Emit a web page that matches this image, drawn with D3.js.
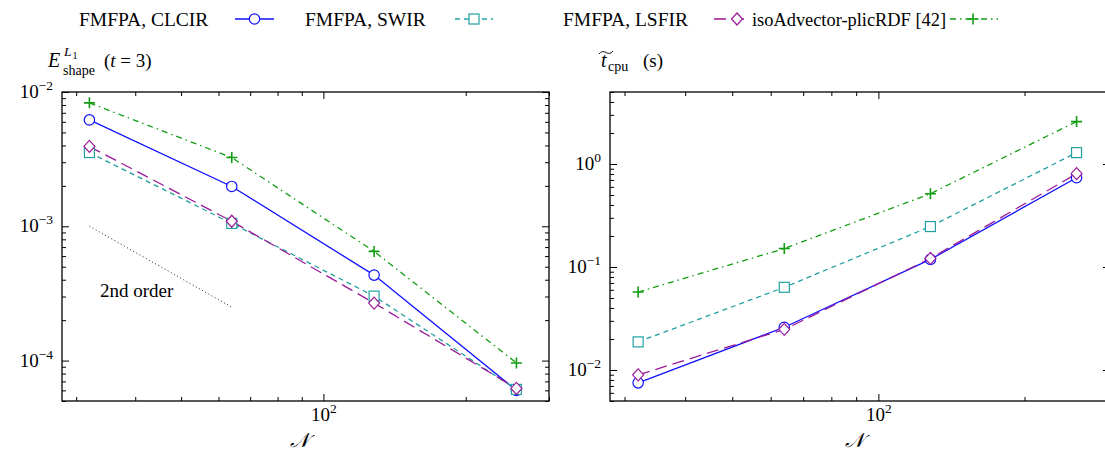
<!DOCTYPE html>
<html><head><meta charset="utf-8">
<script src="https://cdn.jsdelivr.net/npm/d3@7"></script>
<style>
body{margin:0;background:#fff}
svg{display:block}
text{font-family:"Liberation Serif","DejaVu Serif",serif;fill:#000}
</style>
</head><body>
<svg id="c" width="1105" height="451"></svg>
<script>
// ---------------- data ----------------
const meshN = [32, 64, 128, 256];
const errCLCIR = [6.2e-3, 1.98e-3, 4.33e-4, 6.0e-5];
const errSWIR  = [3.54e-3, 1.05e-3, 3.02e-4, 6.1e-5];
const errLSFIR = [3.93e-3, 1.09e-3, 2.68e-4, 6.2e-5];
const errISO   = [8.3e-3, 3.25e-3, 6.5e-4, 9.6e-5];
const cpuCLCIR = [7.5e-3, 0.026, 0.1185, 0.736];
const cpuSWIR  = [0.01875, 0.0635, 0.247, 1.29];
const cpuLSFIR = [8.97e-3, 0.0248, 0.121, 0.805];
const cpuISO   = [0.0571, 0.151, 0.515, 2.58];
const seriesNames = ["FMFPA, CLCIR", "FMFPA, SWIR", "FMFPA, LSFIR", "isoAdvector-plicRDF [42]"];
const orderN = [32, 64];
const orderE = [1e-3, 2.5e-4];
const orderLabel = "2nd order";
const xDomain = [28, 300];
const errDomain = [5e-5, 1e-2];
const cpuDomain = [5e-3, 5];
const xMajorTicks = [100];
const errMajorTicks = [1e-4, 1e-3, 1e-2];
const cpuMajorTicks = [1e-2, 1e-1, 1];
const xTitle = "\uD835\uDCA9";

// ---------------- styles ----------------
const styles = [
  {color:"#1010ff", dash:null, marker:"circle"},
  {color:"#22a0a0", dash:"5,4", marker:"square"},
  {color:"#9a1a9a", dash:"12,6", marker:"diamond"},
  {color:"#129c12", dash:"6,4,1.5,4", marker:"plus"}
];
const FS = 19;       // main font size
const SUP = 13.5;    // script size

const svg = d3.select("#c");

function drawMarker(g, type, cx, cy, color) {
  if (type === "circle") {
    g.append("circle").attr("cx", cx).attr("cy", cy).attr("r", 5.2)
      .attr("fill", "#fff").attr("stroke", color).attr("stroke-width", 1.2);
  } else if (type === "square") {
    g.append("rect").attr("x", cx - 5).attr("y", cy - 5).attr("width", 10).attr("height", 10)
      .attr("fill", "#fff").attr("stroke", color).attr("stroke-width", 1.2);
  } else if (type === "diamond") {
    g.append("path").attr("d", `M${cx},${cy-6}L${cx+5.5},${cy}L${cx},${cy+6}L${cx-5.5},${cy}Z`)
      .attr("fill", "#fff").attr("stroke", color).attr("stroke-width", 1.2);
  } else {
    g.append("path").attr("d", `M${cx-5.5},${cy}H${cx+5.5}M${cx},${cy-5.5}V${cy+5.5}`)
      .attr("fill", "none").attr("stroke", color).attr("stroke-width", 1.6);
  }
}

function expLabel(sel) {
  sel.each(function(d) {
    const t = d3.select(this);
    t.text(null);
    const e = Math.round(Math.log10(d));
    t.append("tspan").text("10");
    t.append("tspan").attr("dy", -8).attr("font-size", SUP).text(String(e).replace("-", "\u2212"));
  });
}

function isMajor(v, majors) { return majors.some(m => Math.abs(m - v) / m < 1e-6); }

function panel(x0, x1, yDomain, yMajors, seriesList) {
  const top = 92, bottom = 401;
  const x = d3.scaleLog().domain(xDomain).range([x0, x1]);
  const y = d3.scaleLog().domain(yDomain).range([bottom, top]);
  const g = svg.append("g");
  const w = x1 - x0, h = bottom - top;

  const xMinor = x.ticks().filter(v => !isMajor(v, xMajorTicks));
  const yMinor = y.ticks().filter(v => !isMajor(v, yMajors));

  const style = sel => {
    sel.select(".domain").remove();
    sel.selectAll(".tick line").attr("stroke", "#000").attr("stroke-width", 1);
    sel.attr("font-family", null).attr("font-size", null);
  };
  // minor ticks, all four sides (inward)
  g.append("g").attr("transform", `translate(${x0},0)`).call(d3.axisLeft(y).tickValues(yMinor).tickSize(-4).tickFormat("")).call(style);
  g.append("g").attr("transform", `translate(${x1},0)`).call(d3.axisRight(y).tickValues(yMinor).tickSize(-4).tickFormat("")).call(style);
  g.append("g").attr("transform", `translate(0,${bottom})`).call(d3.axisBottom(x).tickValues(xMinor).tickSize(-4).tickFormat("")).call(style);
  g.append("g").attr("transform", `translate(0,${top})`).call(d3.axisTop(x).tickValues(xMinor).tickSize(-4).tickFormat("")).call(style);
  // major ticks
  const yl = g.append("g").attr("transform", `translate(${x0},0)`)
    .call(d3.axisLeft(y).tickValues(yMajors).tickSize(-7).tickPadding(9).tickFormat(() => "")).call(style);
  yl.selectAll(".tick text").attr("font-size", FS).attr("dy", "0.3em").call(expLabel);
  g.append("g").attr("transform", `translate(${x1},0)`).call(d3.axisRight(y).tickValues(yMajors).tickSize(-7).tickFormat("")).call(style);
  const xb = g.append("g").attr("transform", `translate(0,${bottom})`)
    .call(d3.axisBottom(x).tickValues(xMajorTicks).tickSize(-7).tickFormat(() => "")).call(style);
  xb.selectAll(".tick text").attr("font-size", FS).attr("y", 20).attr("dy", 0).call(expLabel);
  g.append("g").attr("transform", `translate(0,${top})`).call(d3.axisTop(x).tickValues(xMajorTicks).tickSize(-7).tickFormat("")).call(style);

  // series
  const line = d3.line().x(d => x(d[0])).y(d => y(d[1]));
  seriesList.forEach((vals, i) => {
    const s = styles[i];
    const pts = meshN.map((n, j) => [n, vals[j]]);
    g.append("path").attr("d", line(pts)).attr("fill", "none").attr("stroke", s.color)
      .attr("stroke-width", 1.3).attr("stroke-dasharray", s.dash);
  });
  seriesList.forEach((vals, i) => {
    meshN.forEach((n, j) => drawMarker(g, styles[i].marker, x(n), y(vals[j]), styles[i].color));
  });

  // frame
  g.append("rect").attr("x", x0).attr("y", top).attr("width", w).attr("height", h)
    .attr("fill", "none").attr("stroke", "#000").attr("stroke-width", 1.3);

  // x title
  g.append("text").attr("x", (x0 + x1) / 2 - 6).attr("y", 447).attr("text-anchor", "middle")
    .attr("font-size", 20).attr("font-style", "italic").text(xTitle);
  return {x, y, g};
}

const L = panel(62, 549, errDomain, errMajorTicks, [errCLCIR, errSWIR, errLSFIR, errISO]);
const R = panel(610, 1110, cpuDomain, cpuMajorTicks, [cpuCLCIR, cpuSWIR, cpuLSFIR, cpuISO]);

// 2nd order reference line
L.g.append("path")
  .attr("d", d3.line().x(d => L.x(d[0])).y(d => L.y(d[1]))(orderN.map((n, i) => [n, orderE[i]])))
  .attr("fill", "none").attr("stroke", "#222").attr("stroke-width", 1).attr("stroke-dasharray", "1,2.6");
L.g.append("text").attr("x", 100).attr("y", 297).attr("font-size", FS).text(orderLabel);

// y titles
const tl = svg.append("g");
tl.append("text").attr("x", 48).attr("y", 67).attr("font-size", 20).attr("font-style", "italic").text("E");
tl.append("text").attr("x", 64).attr("y", 56).attr("font-size", SUP).attr("font-style", "italic").text("L");
tl.append("text").attr("x", 72.5).attr("y", 59).attr("font-size", 10).text("1");
tl.append("text").attr("x", 63).attr("y", 75).attr("font-size", 14).text("shape");
const tt = tl.append("text").attr("x", 104).attr("y", 67).attr("font-size", FS);
tt.append("tspan").text("(");
tt.append("tspan").attr("font-style", "italic").text("t");
tt.append("tspan").text(" = 3)");

tl.append("text").attr("x", 601).attr("y", 67).attr("font-size", 20).attr("font-style", "italic").text("t");
tl.append("path").attr("d", "M599,54 Q602,50 606,52.5 T613,51").attr("fill", "none").attr("stroke", "#000").attr("stroke-width", 0.9);
tl.append("text").attr("x", 608).attr("y", 71).attr("font-size", 14).text("cpu");
tl.append("text").attr("x", 643).attr("y", 67).attr("font-size", FS).text("(s)");

// legend
const legendText = [79, 305, 563, 752];
const legendTextLen = [null, null, null, 194];
const legendSym = [[235, 274, 254.5], [455, 493, 474], [714, 750, 737], [950, 998, 973]];
const lg = svg.append("g");
seriesNames.forEach((name, i) => {
  const t = lg.append("text").attr("x", legendText[i]).attr("y", 26).attr("font-size", 19.5).text(name);
  if (legendTextLen[i]) t.attr("textLength", legendTextLen[i]).attr("lengthAdjust", "spacingAndGlyphs");
  const [a, b, m] = legendSym[i], s = styles[i];
  lg.append("line").attr("x1", a).attr("x2", b).attr("y1", 19).attr("y2", 19)
    .attr("stroke", s.color).attr("stroke-width", 1.3).attr("stroke-dasharray", s.dash);
  drawMarker(lg, s.marker, m, 19, s.color);
});
</script>
</body></html>
